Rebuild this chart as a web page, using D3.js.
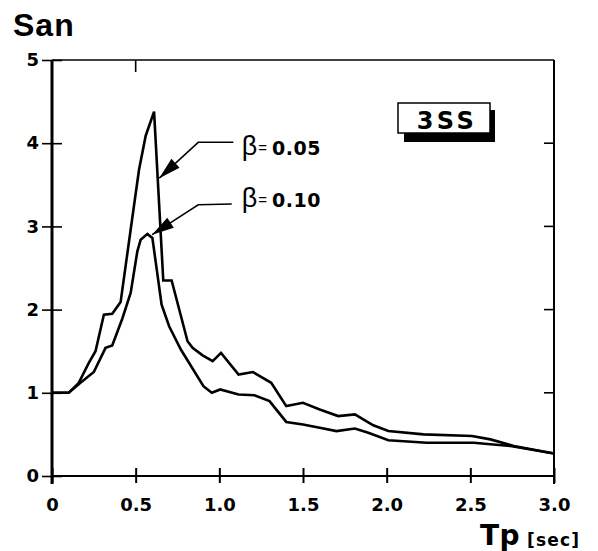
<!DOCTYPE html>
<html><head><meta charset="utf-8">
<script src="https://cdn.jsdelivr.net/npm/d3@7"></script>
<style>body{margin:0;background:#fff}svg{display:block}</style>
</head><body>
<script>
// ---- data ----
const T_b05 = [0,0.10,0.16,0.22,0.26,0.31,0.36,0.41,0.47,0.52,0.56,0.61,0.665,0.715,0.81,0.84,0.90,0.96,1.01,1.115,1.20,1.31,1.40,1.50,1.60,1.71,1.81,1.92,2.01,2.22,2.51,2.62,2.76,3.00];
const S_b05 = [1.00,1.00,1.12,1.36,1.50,1.94,1.95,2.09,2.96,3.68,4.09,4.38,2.35,2.35,1.62,1.54,1.45,1.38,1.48,1.22,1.25,1.12,0.84,0.88,0.80,0.72,0.74,0.61,0.54,0.50,0.48,0.44,0.36,0.27];
const T_b10 = [0,0.10,0.17,0.25,0.32,0.36,0.42,0.47,0.51,0.53,0.57,0.60,0.655,0.70,0.77,0.905,0.955,1.005,1.115,1.21,1.30,1.40,1.50,1.60,1.70,1.81,1.89,2.01,2.24,2.52,2.74,3.00];
const S_b10 = [1.00,1.00,1.12,1.25,1.54,1.57,1.89,2.20,2.70,2.84,2.91,2.86,2.06,1.80,1.52,1.08,1.00,1.04,0.98,0.97,0.90,0.65,0.62,0.58,0.54,0.57,0.52,0.43,0.40,0.40,0.36,0.27];
const xTicks = [0,0.5,1.0,1.5,2.0,2.5,3.0];
const xTickLabels = ["0","0.5","1.0","1.5","2.0","2.5","3.0"];
const yTicks = [0,1,2,3,4,5];
const seriesLabels = ["0.05","0.10"];
const yTitle = "San";
const xTitle = "Tp";
const xUnit = "[sec]";
const tag = "3SS";

const W = 598, H = 551;
const svg = d3.select("body").append("svg").attr("width", W).attr("height", H);
const x = d3.scaleLinear().domain([0,3]).range([52,554]);
const y = d3.scaleLinear().domain([0,5]).range([476,60]);
const F = "'Liberation Sans', Arial, Helvetica, sans-serif";
const FB = "'DejaVu Sans', 'Liberation Sans', sans-serif";

// frame
const g = svg.append("g");
g.append("line").attr("x1",x(0)).attr("x2",x(0)).attr("y1",y(5)).attr("y2",y(0)+8)
 .attr("stroke","#000").attr("stroke-width",3);
g.append("line").attr("x1",x(0)).attr("x2",x(3)).attr("y1",y(0)).attr("y2",y(0))
 .attr("stroke","#000").attr("stroke-width",2.2);
g.append("line").attr("x1",x(3)).attr("x2",x(3)).attr("y1",y(5)).attr("y2",y(0)+8)
 .attr("stroke","#000").attr("stroke-width",2);
g.append("line").attr("x1",x(0)).attr("x2",x(3)).attr("y1",y(5)).attr("y2",y(5))
 .attr("stroke","#000").attr("stroke-width",1.6);

// bottom axis
const xa = svg.append("g").attr("transform",`translate(0,${y(0)})`)
  .call(d3.axisBottom(x).tickValues(xTicks).tickFormat((d,i)=>xTickLabels[i]).tickSize(7).tickPadding(15));
xa.select(".domain").remove();
xa.selectAll(".tick line").attr("y1",-8).attr("y2",7).attr("stroke","#000").attr("stroke-width",2);
xa.selectAll(".tick text").attr("font-family",FB).attr("font-weight","bold").attr("font-size",18)
  .attr("fill","#000");

// left axis
const ya = svg.append("g").attr("transform",`translate(${x(0)},0)`)
  .call(d3.axisLeft(y).tickValues(yTicks).tickFormat(d3.format("d")).tickSize(10).tickPadding(3));
ya.select(".domain").remove();
ya.selectAll(".tick line").attr("x1",-10).attr("x2",10).attr("stroke","#000").attr("stroke-width",1.6);
ya.selectAll(".tick text").attr("font-family",FB).attr("font-weight","bold").attr("font-size",18).attr("fill","#000");

// right ticks (inward)
svg.append("g").selectAll("line").data([1,2,3,4]).join("line")
  .attr("x1",x(3)-10).attr("x2",x(3)).attr("y1",d=>y(d)).attr("y2",d=>y(d))
  .attr("stroke","#000").attr("stroke-width",1.6);
// top tick
svg.append("line").attr("x1",x(0.5)).attr("x2",x(0.5)).attr("y1",y(5)).attr("y2",y(5)+12)
  .attr("stroke","#000").attr("stroke-width",1.6);

// curves
const line = d3.line().x(d=>x(d[0])).y(d=>y(d[1]));
const series = [d3.zip(T_b05,S_b05), d3.zip(T_b10,S_b10)];
svg.append("g").selectAll("path").data(series).join("path")
  .attr("d",line).attr("fill","none").attr("stroke","#000").attr("stroke-width",2.6)
  .attr("stroke-linejoin","miter");

// annotations (leader + arrow + label), positioned in data space
const ann = [
  {tip:[0.641,3.58], elbow:[0.874,4.01], end:[1.084,4.01], text:[1.134,3.86], label:seriesLabels[0]},
  {tip:[0.598,2.90], elbow:[0.874,3.26], end:[1.074,3.27], text:[1.134,3.23], label:seriesLabels[1]}
];
ann.forEach(a=>{
  const tx=x(a.tip[0]), ty=y(a.tip[1]), ex=x(a.elbow[0]), ey=y(a.elbow[1]);
  svg.append("polyline").attr("points",`${x(a.end[0])},${y(a.end[1])} ${ex},${ey} ${tx},${ty}`)
    .attr("fill","none").attr("stroke","#000").attr("stroke-width",1.5);
  const dx=ex-tx, dy=ey-ty, L=Math.hypot(dx,dy), ux=dx/L, uy=dy/L;
  const hl=22, hw=6;
  const bx=tx+ux*hl, by=ty+uy*hl;
  svg.append("polygon").attr("points",
    `${tx},${ty} ${bx-uy*hw},${by+ux*hw} ${bx+uy*hw},${by-ux*hw}`).attr("fill","#000");
  const t = svg.append("text").attr("x",x(a.text[0])).attr("y",y(a.text[1]))
    .attr("font-family",F).attr("fill","#000");
  t.append("tspan").attr("font-size",27).text("β");
  t.append("tspan").attr("font-size",15).attr("dx",1).attr("dy",-2).text("=");
  t.append("tspan").attr("font-family",FB).attr("font-size",19).attr("font-weight","bold").attr("dx",5).attr("dy",2)
    .attr("letter-spacing",0.5).text(a.label);
});

// tag box with shadow
svg.append("rect").attr("x",404).attr("y",110).attr("width",91).attr("height",32).attr("fill","#000");
svg.append("rect").attr("x",398).attr("y",103).attr("width",92).attr("height",30)
  .attr("fill","#fff").attr("stroke","#000").attr("stroke-width",1.5);
svg.append("text").attr("x",447).attr("y",129).attr("text-anchor","middle")
  .attr("font-family",FB).attr("font-weight","bold").attr("font-size",24).attr("letter-spacing",3.5).text(tag);

// titles
svg.append("text").attr("x",13).attr("y",36).attr("font-family",F).attr("font-weight","bold")
  .attr("font-size",32).attr("letter-spacing",1).text(yTitle);
svg.append("text").attr("x",480).attr("y",545).attr("font-family",FB).attr("font-weight","bold")
  .attr("font-size",28).attr("letter-spacing",0.5).text(xTitle);
svg.append("text").attr("x",527).attr("y",546).attr("font-family",FB).attr("font-weight","bold")
  .attr("font-size",17).attr("letter-spacing",1.2).text(xUnit);
</script>
</body></html>
